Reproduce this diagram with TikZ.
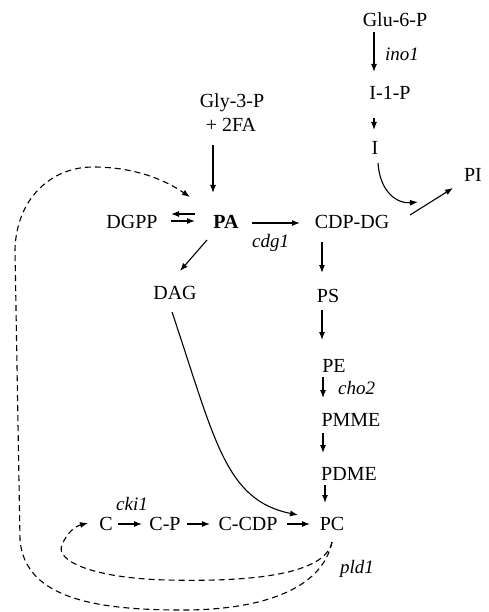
\documentclass[tikz,border=0pt]{standalone}
\usepackage{fontspec}
\setmainfont{Liberation Serif}
\usetikzlibrary{arrows.meta,calc}
\begin{document}
\begin{tikzpicture}[x=1pt,y=-1pt,
  lbl/.style={inner sep=0pt,anchor=base,font=\fontsize{20}{22}\selectfont},
  enz/.style={inner sep=0pt,anchor=base west,font=\fontsize{19}{21}\selectfont\itshape},
  rx/.style={line width=1.1pt,-{Latex[length=8pt,width=6pt]}},
  fb/.style={line width=1.1pt,dash pattern=on 6pt off 4pt,-{Latex[length=8pt,width=6pt]}}]
\useasboundingbox (0,0) rectangle (489,612);
% nodes
\node[lbl] (glu) at (395,27) {Glu-6-P};
\node[lbl] (i1p) at (390,100) {I-1-P};
\node[lbl] (ino) at (375,155) {I};
\node[lbl] (pi) at (473,182) {PI};
\node[lbl] (gly) at (232,108) {Gly-3-P};
\node[lbl] (fa) at (231,132) {+ 2FA};
\node[lbl] (dgpp) at (132,229) {DGPP};
\node[lbl,font=\fontsize{20}{22}\selectfont\bfseries] (pa) at (226,229) {PA};
\node[lbl] (cdp) at (352,229) {CDP-DG};
\node[lbl] (dag) at (175,299) {DAG};
\node[lbl] (ps) at (328,302) {PS};
\node[lbl] (pe) at (334,372) {PE};
\node[lbl] (pmme) at (351,426) {PMME};
\node[lbl] (pdme) at (349,480) {PDME};
\node[lbl] (pc) at (332,530) {PC};
\node[lbl] (c) at (106,530) {C};
\node[lbl] (cp) at (165,530) {C-P};
\node[lbl] (ccdp) at (248,530) {C-CDP};
% enzyme labels
\node[enz] (lino) at (385,61) {ino1};
\node[enz] (lcdg) at (252,247) {cdg1};
\node[enz] (lcho) at (338,394) {cho2};
\node[enz] (lcki) at (116,510) {cki1};
\node[enz] (lpld) at (340,573) {pld1};
% connectors
\draw[rx] ($(glu.base)+(-21,5)$) -- ($(i1p.base)+(-16,-28)$);
\draw[rx] ($(i1p.base)+(-16,18)$) -- ($(ino.base)+(-1,-25)$);
\draw[rx] ($(ino.base)+(3,8)$) .. controls +(2,30) and +(-20,2) .. ($(cdp.base)+(66,-27)$);
\draw[rx] ($(cdp.base)+(58,-14)$) -- ($(pi.base)+(-20,6)$);
\draw[rx] ($(fa.base)+(-18,13)$) -- ($(pa.base)+(-13,-36)$);
\draw[rx] ($(dgpp.base)+(63,-15)$) -- ($(dgpp.base)+(39,-15)$);
\draw[rx] ($(dgpp.base)+(39,-8)$) -- ($(dgpp.base)+(63,-8)$);
\draw[rx] ($(pa.base)+(26,-6)$) -- ($(cdp.base)+(-52,-6)$);
\draw[rx] ($(pa.base)+(-19,11)$) -- ($(dag.base)+(5,-28)$);
\draw[rx] ($(cdp.base)+(-30,13)$) -- ($(ps.base)+(-6,-29)$);
\draw[rx] ($(ps.base)+(-6,8)$) -- ($(pe.base)+(-12,-32)$);
\draw[rx] ($(pe.base)+(-11,5)$) -- ($(pmme.base)+(-28,-28)$);
\draw[rx] ($(pmme.base)+(-28,7)$) -- ($(pdme.base)+(-26,-27)$);
\draw[rx] ($(pdme.base)+(-24,5)$) -- ($(pc.base)+(-7,-27)$);
\draw[rx] ($(c.base)+(12,-6)$) -- ($(cp.base)+(-23,-6)$);
\draw[rx] ($(cp.base)+(22,-6)$) -- ($(ccdp.base)+(-38,-6)$);
\draw[rx] ($(ccdp.base)+(39,-6)$) -- ($(pc.base)+(-22,-6)$);
\draw[rx] ($(dag.base)+(-3,13)$) .. controls (215,440) and (225,500) .. ($(pc.base)+(-34,-15)$);
% feedback loops
\coordinate (pcb) at ($(pc.base)+(0,12)$);
\draw[fb] (pcb) .. controls (325,575) and (250,582) .. (167,580)
  .. controls (90,578) and (55,560) .. (62,545)
  .. controls (67,532) and (76,526) .. ($(c.base)+(-18,-7)$);
\draw[fb] (pcb) .. controls (322,590) and (260,610) .. (183,610)
  .. controls (100,610) and (25,600) .. (20,540) -- (15,250)
  .. controls (16,200) and (50,167) .. (93,167)
  .. controls (135,167) and (165,180) .. ($(pa.base)+(-36,-32)$);
\end{tikzpicture}
\end{document}
